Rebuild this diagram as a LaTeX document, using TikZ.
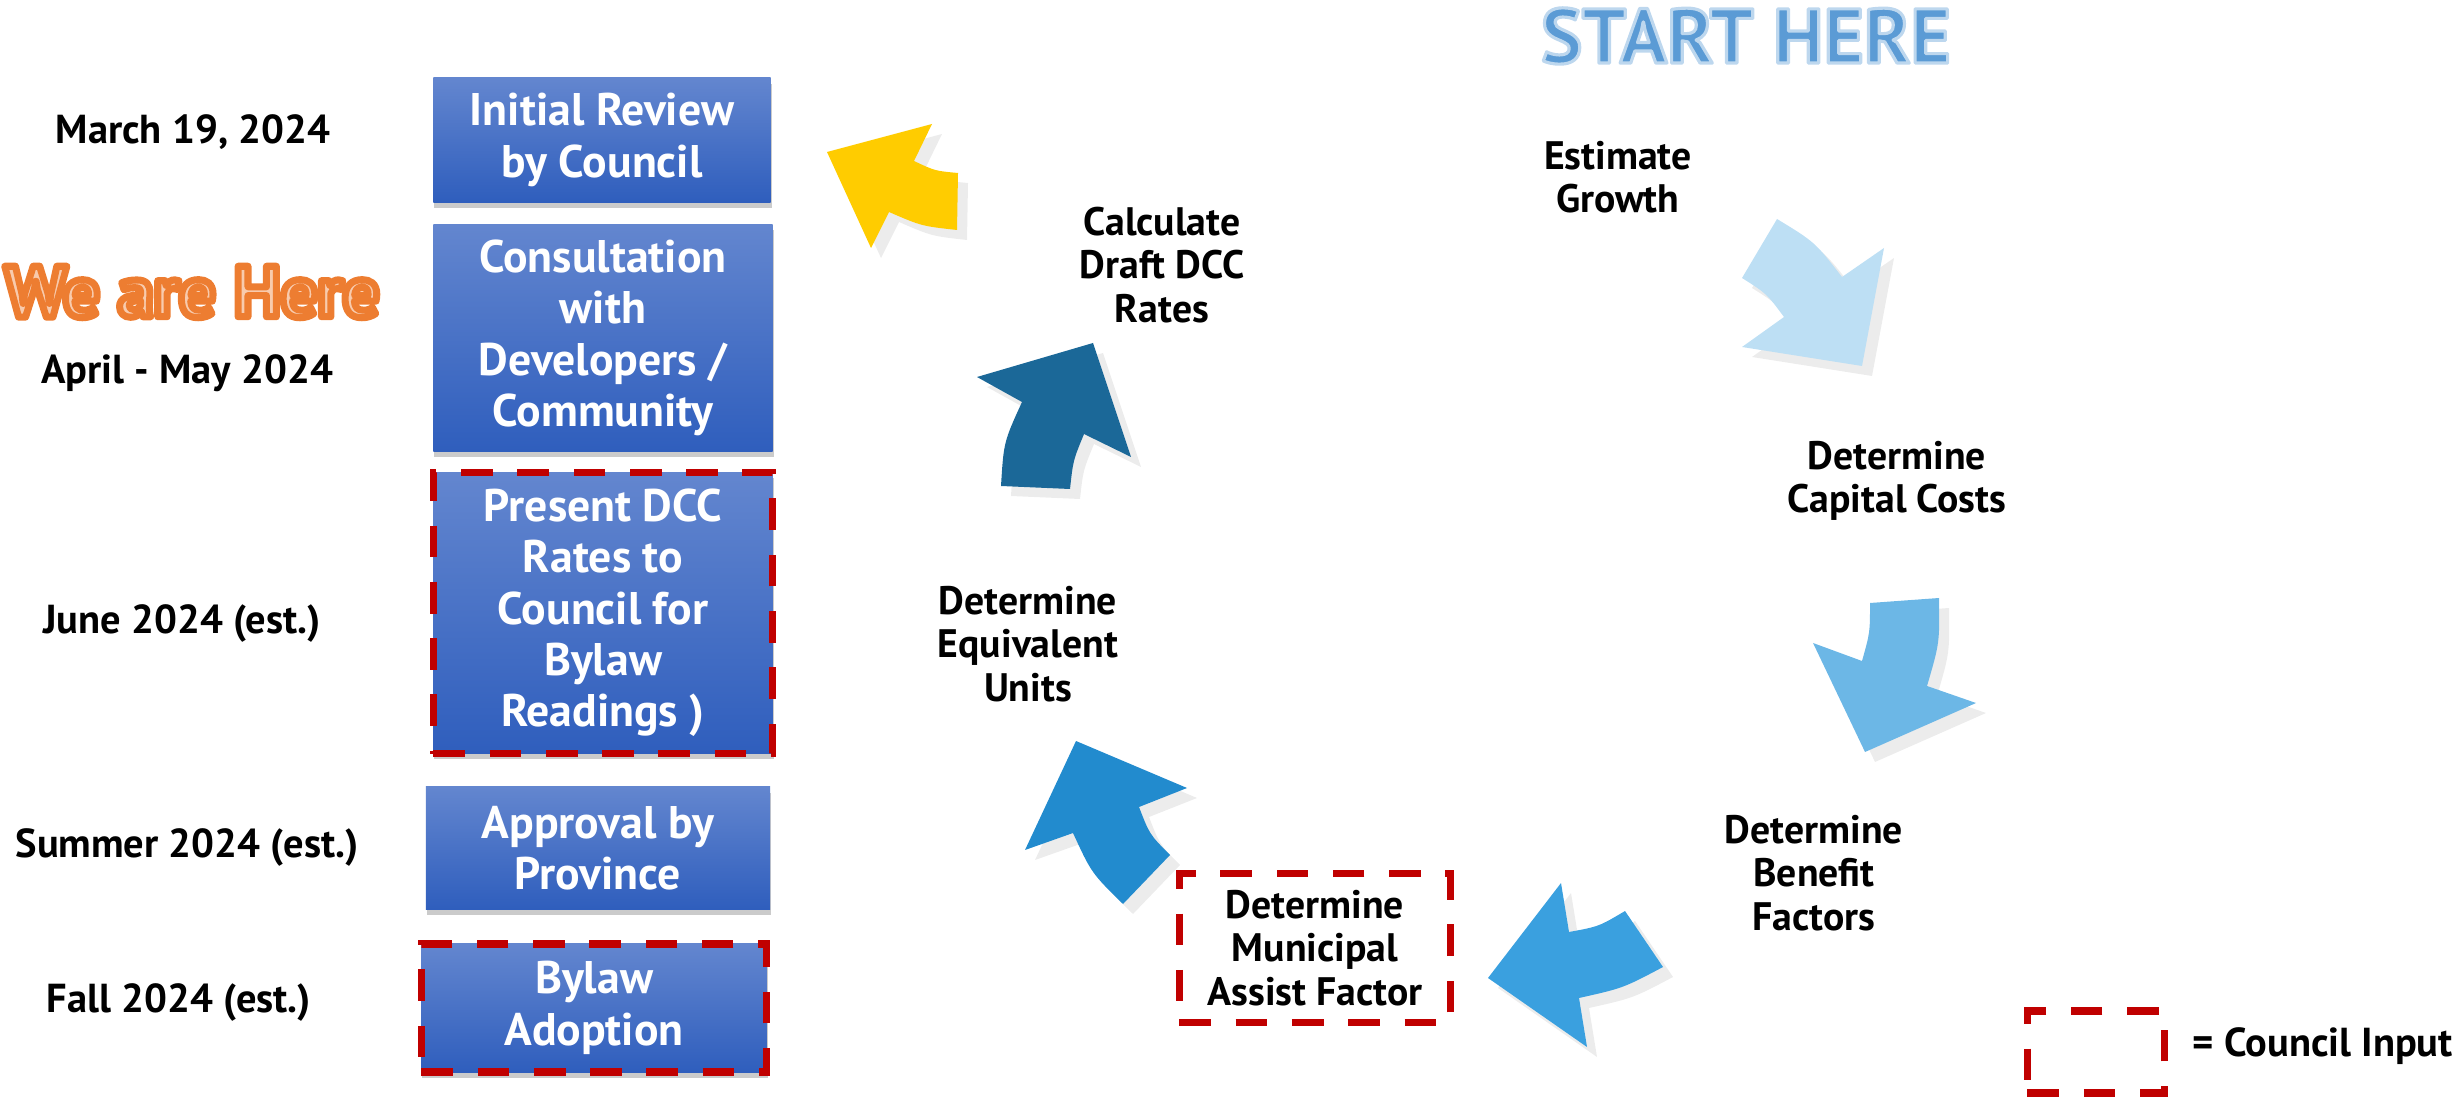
\documentclass[tikz,border=0pt]{standalone}
\usepackage{fontspec}
\setmainfont{PT Sans}
\usepackage{tikz}
\usetikzlibrary{shadows}
\definecolor{boxtop}{RGB}{99,134,207}
\definecolor{boxbottom}{RGB}{47,94,189}
\definecolor{councilred}{RGB}{192,0,0}
\definecolor{shadowgrey}{RGB}{236,236,236}
\definecolor{growthblue}{RGB}{189,223,244}
\definecolor{capitalblue}{RGB}{108,183,230}
\definecolor{benefitblue}{RGB}{58,160,223}
\definecolor{assistblue}{RGB}{34,139,206}
\definecolor{unitsblue}{RGB}{27,104,152}
\definecolor{ratesyellow}{RGB}{255,204,0}
\definecolor{startblue}{RGB}{91,155,213}
\definecolor{herefill}{RGB}{248,203,173}
\tikzstyle{stepbox} = [top color=boxtop, bottom color=boxbottom, text=white, align=center, inner sep=0pt,
  font=\bfseries\fontsize{13}{14.6}\selectfont,
  drop shadow={shadow xshift=0.3pt, shadow yshift=-1.6pt, fill=black!45, opacity=0.45}]
\tikzstyle{council} = [draw=councilred, line width=2.2pt, dash pattern=on 9pt off 7pt]
\tikzstyle{datelabel} = [font=\bfseries\fontsize{11.5}{13}\selectfont]
\tikzstyle{steplabel} = [align=center, font=\bfseries\fontsize{11.3}{12.4}\selectfont]
% text with a coloured outline: #1 stroke rgb, #2 width, #3 text
\newcommand{\outlined}[3]{\special{pdf:literal direct 1 j #2 w #1 RG 2 Tr}#3\special{pdf:literal direct 0 Tr}}

\begin{document}
\begin{tikzpicture}[x=0.01cm, y=-0.01cm]
\useasboundingbox (0,0) rectangle (2458,1101);

% cycle arrows, shadow first
\foreach \sh/\col in {10/shadowgrey, 0/growthblue}
  \fill[\col, shift={(\sh,\sh)}] (1884,248) -- (1862,366) -- (1742,347) -- (1784,317)
    .. controls (1766.6,293.6) .. (1742,278) -- (1777,219)
    .. controls (1814.8,242) .. (1842,277) -- cycle;
\foreach \sh/\col in {10/shadowgrey, 0/capitalblue}
  \fill[\col, shift={(\sh,\sh)}] (1976,703) -- (1865,752) -- (1813,643) -- (1862,661)
    .. controls (1870,632.5) .. (1870,603) -- (1939,598)
    .. controls (1939.6,642.9) .. (1927,686) -- cycle;
\foreach \sh/\col in {10/shadowgrey, 0/benefitblue}
  \fill[\col, shift={(\sh,\sh)}] (1587,1047) -- (1488,978) -- (1561,883) -- (1569,932)
    .. controls (1598.9,926.5) .. (1625,911) -- (1663,967)
    .. controls (1623.1,988.1) .. (1579,998) -- cycle;
\foreach \sh/\col in {10/shadowgrey, 0/assistblue}
  \fill[\col, shift={(\sh,\sh)}] (1187,788) -- (1076,741) -- (1025,850) -- (1073,833)
    .. controls (1091.5,873.1) .. (1123,904) -- (1170,855)
    .. controls (1149.5,834.3) .. (1139,807) -- cycle;
\foreach \sh/\col in {10/shadowgrey, 0/unitsblue}
  \fill[\col, shift={(\sh,\sh)}] (1131,457) -- (1093,343) -- (977,377) -- (1022,402)
    .. controls (1003.7,442.1) .. (1001,486) -- (1070,489)
    .. controls (1073.1,460.5) .. (1084,434) -- cycle;
\foreach \sh/\col in {10/shadowgrey, 0/ratesyellow}
  \fill[\col, shift={(\sh,\sh)}] (932,124) -- (827,152) -- (871,248) -- (889,212)
    .. controls (921.6,226.1) .. (957,230) -- (958,173)
    .. controls (935,170.9) .. (914,161) -- cycle;

% timeline boxes
\node[stepbox, minimum width=3.37cm, minimum height=1.24cm] (review) at (602,140) {Initial Review\\by Council};
\node[stepbox, minimum width=3.39cm, minimum height=2.27cm] (consult) at (603,338) {Consultation\\with\\Developers /\\Community};
\node[stepbox, council, minimum width=3.39cm, minimum height=2.81cm] (present) at (603,613) {Present DCC\\Rates to\\Council for\\Bylaw\\Readings )};
\node[stepbox, minimum width=3.44cm, minimum height=1.22cm] (approval) at (598,848) {Approval by\\Province};
\node[stepbox, council, minimum width=3.45cm, minimum height=1.28cm] (adoption) at (594,1008) {Bylaw\\Adoption};

% dates
\node[datelabel] (march) at (193,132) {March 19, 2024};
\node[datelabel] (april) at (187,373) {April - May 2024};
\node[datelabel] (june) at (182,624) {June 2024 (est.)};
\node[datelabel] (summer) at (187,848) {Summer 2024 (est.)};
\node[datelabel] (fall) at (179,1003) {Fall 2024 (est.)};

% headings
\node[font=\bfseries\fontsize{20.5}{24}\selectfont, text=herefill] (wehere) at (192,292)
  {\outlined{0.929 0.490 0.192}{2}{We are Here}};
\node[font=\bfseries\fontsize{22}{26}\selectfont, text=startblue] (start) at (1746,36)
  {\outlined{0.741 0.843 0.933}{0.9}{START HERE}};

% cycle steps
\node[steplabel] (growth) at (1618,177) {Estimate\\Growth};
\node[steplabel] (capital) at (1897,481) {Determine\\Capital Costs};
\node[steplabel] (benefit) at (1814,873) {Determine\\Benefit\\Factors};
\node[steplabel, council, minimum width=2.71cm, minimum height=1.49cm] (assist) at (1315,948) {Determine\\Municipal\\Assist Factor};
\node[steplabel] (units) at (1028,644) {Determine\\Equivalent\\Units};
\node[steplabel] (rates) at (1162,265) {Calculate\\Draft DCC\\Rates};

% legend
\node[council, minimum width=1.37cm, minimum height=0.82cm] (key) at (2096,1052) {};
\node[datelabel, anchor=west] (keytext) at ([xshift=0.12cm, yshift=0.06cm]key.east) {= Council Input};
\end{tikzpicture}
\end{document}
